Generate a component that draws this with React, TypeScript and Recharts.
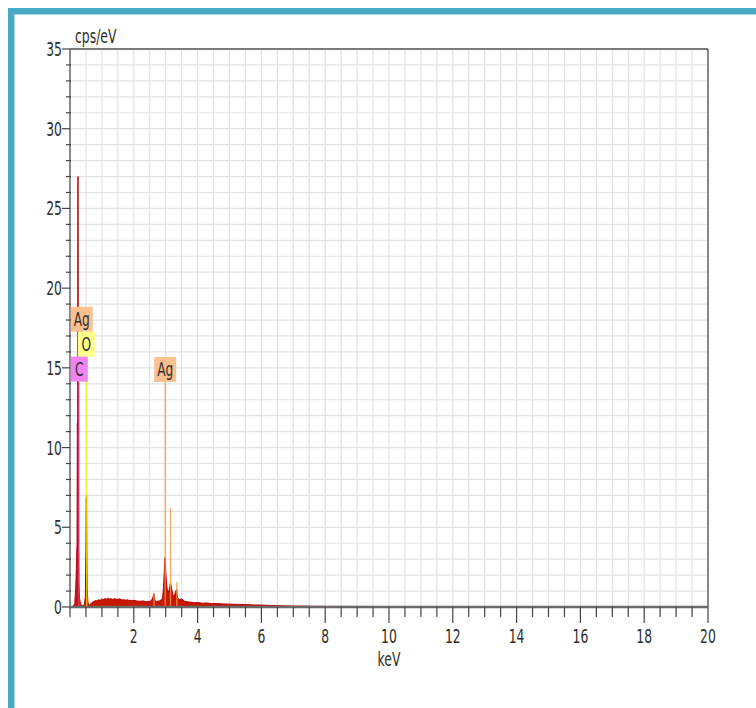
import React from 'react';
import { ComposedChart, Area, XAxis, YAxis, CartesianGrid, ReferenceLine, ReferenceDot } from 'recharts';

// Spectrum: energy (keV) and intensity (cps/eV)
const energyKeV = [
  0, 0.1, 0.15, 0.18, 0.2, 0.22, 0.23, 0.24, 0.25, 0.26, 0.27, 0.28, 0.3, 0.33, 0.36, 0.4, 0.45, 0.48,
  0.5, 0.51, 0.52, 0.53, 0.54, 0.56, 0.6, 0.65, 0.7, 0.75, 0.8, 0.85, 0.9, 0.95, 1.0, 1.05, 1.1, 1.15, 1.2,
  1.25, 1.3, 1.35, 1.4, 1.45, 1.5, 1.55, 1.6, 1.65, 1.7, 1.75, 1.8, 1.85, 1.9, 1.95, 2.0, 2.1, 2.2, 2.3,
  2.4, 2.5, 2.55, 2.6, 2.63, 2.66, 2.7, 2.8, 2.9, 2.93, 2.96, 2.98,
  3.0, 3.03, 3.06, 3.1, 3.13, 3.15, 3.18, 3.22, 3.26, 3.3, 3.34, 3.37, 3.42, 3.5, 3.6, 3.7, 3.8, 3.9, 4.0,
  4.15, 4.3, 4.45, 4.6, 4.8, 5.0, 5.25, 5.5, 5.75, 6.0, 6.5, 7, 8, 10, 12, 15, 20,
];
const countsCps = [
  0, 0.05, 0.2, 1.2, 2.4, 4, 11.5, 11, 27, 12, 4, 1.5, 0.5, 0.2, 0.1, 0.08, 0.15, 0.6,
  3.5, 6.8, 7.0, 3.4, 1.2, 0.3, 0.1, 0.2, 0.3, 0.35, 0.4, 0.38, 0.46, 0.42, 0.5, 0.47, 0.53, 0.49, 0.55,
  0.5, 0.52, 0.47, 0.53, 0.49, 0.48, 0.51, 0.47, 0.44, 0.46, 0.42, 0.46, 0.41, 0.42, 0.39, 0.42, 0.37, 0.36, 0.38,
  0.33, 0.35, 0.4, 0.6, 0.85, 0.4, 0.35, 0.38, 0.5, 1.2, 2.4, 3.1,
  2.2, 1.4, 0.9, 1.0, 1.3, 1.5, 1.2, 0.8, 0.6, 0.9, 1.1, 0.6, 0.45, 0.5, 0.35, 0.32, 0.3, 0.27, 0.28,
  0.24, 0.25, 0.21, 0.22, 0.19, 0.18, 0.16, 0.15, 0.13, 0.12, 0.08, 0.06, 0.04, 0.03, 0.02, 0.02, 0.01,
];

// Element marker lines (energy, height they reach)
const markerElements = ['C', 'O', 'Ag', 'Ag', 'Ag', 'Ag'];
const markerEnergies = [0.277, 0.525, 2.984, 2.634, 3.151, 3.348];
const markerTops = [14.1, 15.7, 14.1, 0.9, 6.2, 1.55];

// Element labels (text, energy, height of label centre)
const labelTexts = ['Ag', 'O', 'C', 'Ag'];
const labelEnergies = [0.367, 0.51, 0.29, 2.984];
const labelHeights = [18.05, 16.48, 14.92, 14.9];

const xTicks = [0, 0.5, 1, 1.5, 2, 2.5, 3, 3.5, 4, 4.5, 5, 5.5, 6, 6.5, 7, 7.5, 8, 8.5, 9, 9.5, 10, 10.5, 11, 11.5, 12, 12.5, 13, 13.5, 14, 14.5, 15, 15.5, 16, 16.5, 17, 17.5, 18, 18.5, 19, 19.5, 20];
const xLabelTicks = [2, 4, 6, 8, 10, 12, 14, 16, 18, 20];
const yTicks = [0, 1, 2, 3, 4, 5, 6, 7, 8, 9, 10, 11, 12, 13, 14, 15, 16, 17, 18, 19, 20, 21, 22, 23, 24, 25, 26, 27, 28, 29, 30, 31, 32, 33, 34, 35];
const yLabelTicks = [0, 5, 10, 15, 20, 25, 30, 35];

const xAxisTitle = 'keV';
const yAxisTitle = 'cps/eV';

const spectrum = energyKeV.map((e, i) => ({ e, cps: countsCps[i] }));

const elementStyle: Record<string, { line: string; box: string }> = {
  C: { line: '#e0409c', box: '#f283f2' },
  O: { line: '#f2f000', box: '#ffff8a' },
  Ag: { line: '#f39a45', box: '#fbc08f' },
};

const FONT = 'DejaVu Sans';
const SX = 0.62;
const FS = 20;

const XTick = (props: any) => {
  const { x, y, payload } = props;
  const v = payload.value;
  const major = xLabelTicks.includes(v);
  return (
    <g>
      <line x1={x} x2={x} y1={y} y2={y + (major ? 16 : 10)} stroke="#444" strokeWidth={1.2} />
      {major && (
        <text transform={`translate(${x},${y + 36}) scale(${SX},1)`} textAnchor="middle" fontSize={FS} fontFamily={FONT} fill="#2e2e2e">
          {v}
        </text>
      )}
    </g>
  );
};

const YTick = (props: any) => {
  const { x, y, payload } = props;
  const v = payload.value;
  const major = yLabelTicks.includes(v);
  return (
    <g>
      <line x1={major ? x - 8 : x - 4} x2={major ? x : x + 1} y1={y} y2={y} stroke="#444" strokeWidth={1.2} />
      {major && (
        <text transform={`translate(${x - 8},${y + 7}) scale(${SX},1)`} textAnchor="end" fontSize={FS} fontFamily={FONT} fill="#2e2e2e">
          {v}
        </text>
      )}
    </g>
  );
};

const makeLabelShape = (text: string) => (p: any) => {
  const { cx, cy } = p;
  const st = elementStyle[text];
  const w = text.length > 1 ? 22 : 17;
  return (
    <g>
      <rect x={cx - w / 2} y={cy - 12.5} width={w} height={25} fill={st.box} />
      <text transform={`translate(${cx},${cy + 7}) scale(0.64,1)`} textAnchor="middle" fontSize={19} fontFamily={FONT} fill="#2e2e2e">
        {text}
      </text>
    </g>
  );
};

export default function App() {
  return (
    <div style={{ position: 'fixed', left: 0, top: 0, width: 756, height: 708, overflow: 'hidden', background: '#fff' }}>
      <div style={{ position: 'absolute', left: 8, top: 8, width: 900, height: 900, borderTop: '6px solid #4aaac5', borderLeft: '6px solid #4aaac5' }} />
      <div style={{ position: 'absolute', left: 14, top: 14, width: 900, height: 900, borderTop: '1px solid #a9d8e6', borderLeft: '1px solid #a9d8e6' }} />
      <div style={{ position: 'absolute', left: 0, top: 0 }}>
        <ComposedChart width={756} height={708} data={spectrum} margin={{ top: 49, right: 48, bottom: 61, left: 30 }}>
          <CartesianGrid stroke="#e2e2e2" strokeWidth={1.2} />
          <XAxis
            type="number"
            dataKey="e"
            domain={[0, 20]}
            ticks={xTicks}
            interval={0}
            height={40}
            tickSize={0}
            tickMargin={0}
            tickLine={false}
            axisLine={{ stroke: '#6a6a6a', strokeWidth: 2.5 }}
            tick={<XTick />}
            label={{
              content: (lp: any) => {
                const vb = lp.viewBox;
                return (
                  <text transform={`translate(${vb.x + vb.width / 2},${vb.y + 59}) scale(${SX},1)`} textAnchor="middle" fontSize={FS} fontFamily={FONT} fill="#2e2e2e">
                    {xAxisTitle}
                  </text>
                );
              },
            }}
          />
          <YAxis
            type="number"
            domain={[0, 35]}
            ticks={yTicks}
            interval={0}
            width={40}
            tickSize={0}
            tickMargin={0}
            tickLine={false}
            allowDataOverflow
            axisLine={{ stroke: '#6a6a6a', strokeWidth: 1.5 }}
            tick={<YTick />}
            label={{
              content: (lp: any) => {
                const vb = lp.viewBox;
                return (
                  <text transform={`translate(${vb.x + vb.width + 5},${vb.y - 6}) scale(${SX},1)`} textAnchor="start" fontSize={FS} fontFamily={FONT} fill="#2e2e2e">
                    {yAxisTitle}
                  </text>
                );
              },
            }}
          />
          <ReferenceLine y={35} stroke="#7a7a7a" strokeWidth={2} />
          <ReferenceLine x={20} stroke="#222" strokeWidth={1} />
          <Area
            type="linear"
            dataKey="cps"
            stroke="#b80000"
            strokeWidth={1}
            fill="#c81800"
            fillOpacity={1}
            dot={false}
            activeDot={false}
            isAnimationActive={false}
          />
          {markerEnergies.map((e, i) => (
            <ReferenceLine
              key={`m${i}`}
              segment={[{ x: e, y: 0 }, { x: e, y: markerTops[i] }]}
              stroke={elementStyle[markerElements[i]].line}
              strokeWidth={1.3}
              strokeOpacity={0.85}
            />
          ))}
          {labelTexts.map((t, i) => (
            <ReferenceDot key={`l${i}`} x={labelEnergies[i]} y={labelHeights[i]} r={0} shape={makeLabelShape(t)} />
          ))}
        </ComposedChart>
      </div>
    </div>
  );
}
